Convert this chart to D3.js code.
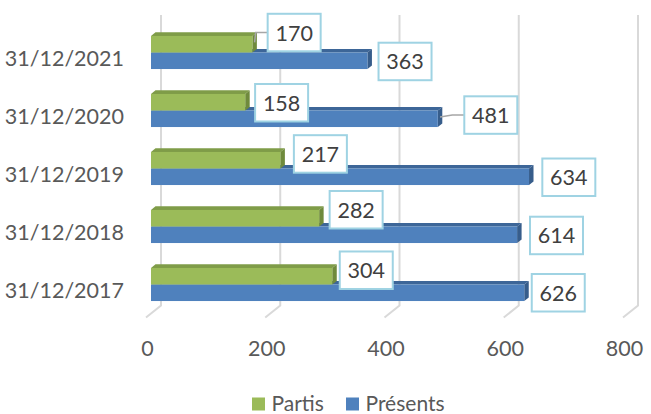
<!DOCTYPE html>
<html>
<head>
<meta charset="utf-8">
<script src="https://cdn.jsdelivr.net/npm/d3@7"></script>
<style>
  html, body { margin: 0; padding: 0; background: #ffffff; }
  svg { display: block; font-family: Lato, "Open Sans", "Noto Sans", sans-serif; }
</style>
</head>
<body>
<svg id="chart" width="651" height="414"></svg>
<script>
// Staff counts at year end
const dates = ['31/12/2017', '31/12/2018', '31/12/2019', '31/12/2020', '31/12/2021'];
const partis = [304, 282, 217, 158, 170];
const presents = [626, 614, 634, 481, 363];
const seriesNames = ['Partis', 'Présents'];
const tickValues = [0, 200, 400, 600, 800];

// Hand-placed data label offsets [gap from bar end, vertical shift], same order as dates
const labelShift = {
  'Partis':   [[3, -6], [6, -8.5], [9, -6.3], [5.4, 0.5], [10.8, -11.7]],
  'Présents': [[3, 0], [8.4, 0.7], [8.8, 0.5], [22, -3.7], [6.6, 0.7]]
};

const colors = {
  'Partis':   { front: '#9bbb59', top: '#7f9c48', side: '#6f8a3c' },
  'Présents': { front: '#4f81bd', top: '#3d6698', side: '#375d8b' }
};

const svg = d3.select('#chart');

// Plot geometry: bars sit on a plane between the floor front edge and the back wall
const barX0 = 151, barBottom = 313.5, barTop = 23.5;
const wall = { dx: 10, dy: -8 };     // bar plane -> back wall
const front = { dx: -5, dy: 4 };     // bar plane -> front floor edge
const depth = { dx: 4.5, dy: -3.6 }; // thickness of each bar

const x = d3.scaleLinear().domain([0, 800]).range([0, 477]);
const y = d3.scaleBand().domain(dates).range([barBottom, barTop])
  .paddingInner(0.43).paddingOuter(0.215);
const ySub = d3.scaleBand().domain(seriesNames).range([0, y.bandwidth()]);

// Back wall gridlines and floor lines
const grid = svg.append('g').attr('stroke', '#d9d9d9').attr('stroke-width', 2).attr('fill', 'none');
const wallTop = barTop + wall.dy - 0.5;
const wallBottom = barBottom + wall.dy;
tickValues.forEach(v => {
  const xb = barX0 + wall.dx + x(v);
  const xf = barX0 + front.dx + x(v);
  grid.append('path')
    .attr('d', `M${xb},${wallTop}L${xb},${wallBottom}L${xf},${barBottom + front.dy}`);
});

// Value axis labels along the front floor edge
svg.append('g').selectAll('text').data(tickValues).join('text')
  .attr('x', v => barX0 + front.dx + x(v) + 1.5)
  .attr('y', 347.5)
  .attr('text-anchor', 'middle')
  .attr('dominant-baseline', 'central')
  .attr('fill', '#595959')
  .attr('font-size', 21.5)
  .text(d => d);

// Category labels
svg.append('g').selectAll('text').data(dates).join('text')
  .attr('x', 124)
  .attr('y', d => y(d) + y.bandwidth() / 2 + 5.5)
  .attr('text-anchor', 'end')
  .attr('dominant-baseline', 'central')
  .attr('fill', '#595959')
  .attr('font-size', 21.5)
  .text(d => d);

// Bars: draw Présents first so the Partis front face covers its top face
const rows = [];
dates.forEach((d, i) => {
  rows.push({ date: d, i, series: 'Présents', value: presents[i] });
  rows.push({ date: d, i, series: 'Partis', value: partis[i] });
});

const bars = svg.append('g');
rows.forEach(r => {
  const c = colors[r.series];
  const x0 = barX0, x1 = barX0 + x(r.value);
  const y0 = y(r.date) + ySub(r.series), y1 = y0 + ySub.bandwidth();
  const g = bars.append('g');
  g.append('path').attr('fill', c.top)
    .attr('d', `M${x0},${y0}L${x0 + depth.dx},${y0 + depth.dy}L${x1 + depth.dx},${y0 + depth.dy}L${x1},${y0}Z`);
  g.append('path').attr('fill', c.side)
    .attr('d', `M${x1},${y0}L${x1 + depth.dx},${y0 + depth.dy}L${x1 + depth.dx},${y1 + depth.dy}L${x1},${y1}Z`);
  g.append('rect').attr('fill', c.front)
    .attr('x', x0).attr('y', y0).attr('width', x1 - x0).attr('height', y1 - y0);
});

// Data labels in outlined boxes, with leader lines when moved away from the bar
const boxW = 53, boxH = 37.5;
const labels = svg.append('g');
rows.forEach(r => {
  const [gap, dy] = labelShift[r.series][r.i];
  const xEnd = barX0 + x(r.value);
  const yMid = y(r.date) + ySub(r.series) + ySub.bandwidth() / 2;
  const bx = xEnd + depth.dx + gap;
  const cy = yMid + dy;
  if (gap > 15 || Math.abs(dy) > 10) {
    const ax = xEnd + depth.dx / 2, ay = yMid + depth.dy / 2;
    labels.append('path')
      .attr('fill', 'none').attr('stroke', '#a6a6a6').attr('stroke-width', 1.5)
      .attr('d', `M${ax},${ay}L${bx - 12},${cy}L${bx},${cy}`);
  }
  labels.append('rect')
    .attr('x', bx).attr('y', cy - boxH / 2)
    .attr('width', boxW).attr('height', boxH)
    .attr('fill', '#ffffff').attr('stroke', '#9fd3e3').attr('stroke-width', 2);
  labels.append('text')
    .attr('x', bx + boxW / 2).attr('y', cy)
    .attr('text-anchor', 'middle').attr('dominant-baseline', 'central')
    .attr('fill', '#404040').attr('font-size', 21.5)
    .text(r.value);
});

// Legend
const legendItems = [
  { name: 'Partis', x: 252 },
  { name: 'Présents', x: 346 }
];
const legend = svg.append('g');
legendItems.forEach(it => {
  legend.append('rect').attr('x', it.x).attr('y', 397.5).attr('width', 13).attr('height', 13)
    .attr('fill', colors[it.name].front);
  legend.append('text').attr('x', it.x + 19.5).attr('y', 410.5)
    .attr('fill', '#595959').attr('font-size', 21)
    .text(it.name);
});
</script>
</body>
</html>
